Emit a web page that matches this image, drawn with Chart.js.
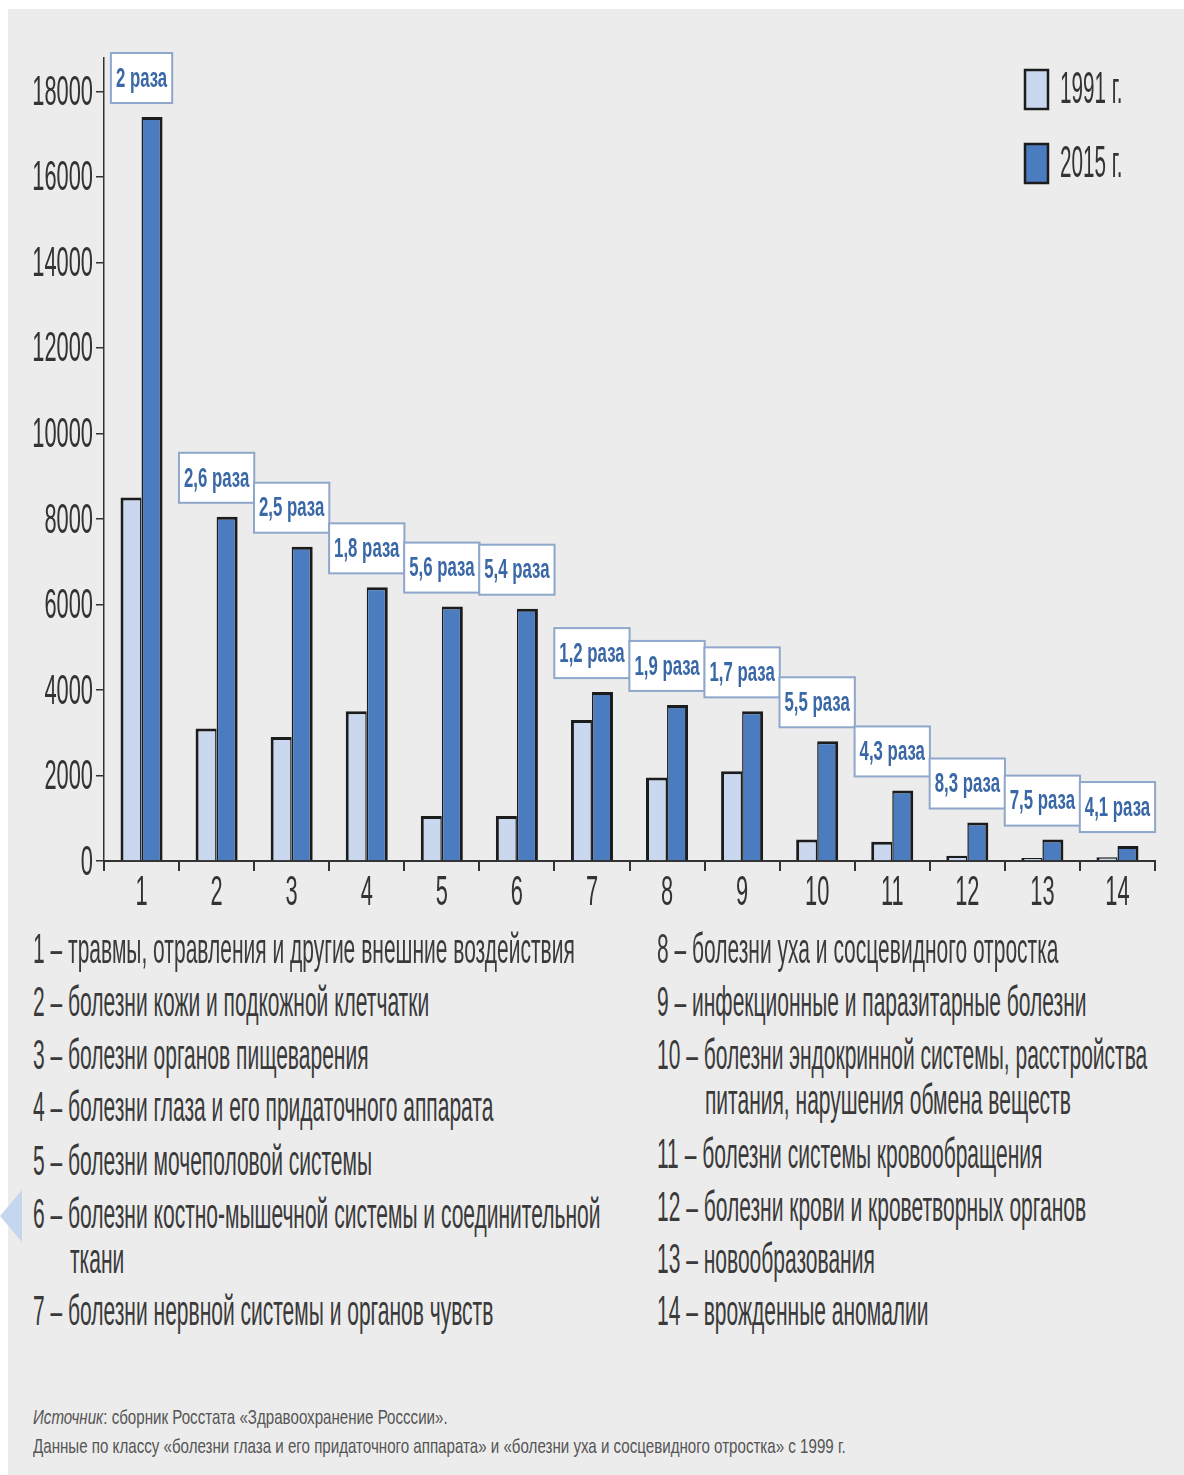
<!DOCTYPE html>
<html lang="ru">
<head>
<meta charset="utf-8">
<script src="https://cdn.jsdelivr.net/npm/chart.js@4.4.1/dist/chart.umd.min.js"></script>
<style>
  body { margin: 0; width: 1184px; height: 1475px; position: relative; overflow: hidden; background: #fff; font-family: "Liberation Sans", Arial, sans-serif; }
  #panel { position: absolute; left: 8px; top: 9px; right: 0; bottom: 0; background: #ececec; }
  #wrap { position: absolute; left: 0; top: 0; width: 1184px; height: 930px; }
  .note { position: absolute; white-space: nowrap; font-size: 42px; line-height: 42px; color: #3a3a3a; transform: scaleX(0.5); transform-origin: 0 50%; }
  .src { position: absolute; white-space: nowrap; font-size: 21px; line-height: 21px; color: #555; transform: scaleX(0.72); transform-origin: 0 50%; }
  #arrow { position: absolute; left: 0; top: 1190px; width: 0; height: 0; border-top: 26px solid transparent; border-bottom: 26px solid transparent; border-right: 22px solid #c6d6ee; }
</style>
</head>
<body>
<div id="panel"></div>
<div id="arrow"></div>
<div id="wrap"><canvas id="chart" width="1184" height="930"></canvas></div>
<div id="notes"></div>
<script>
// данные
const categories = ['1', '2', '3', '4', '5', '6', '7', '8', '9', '10', '11', '12', '13', '14'];
const values1991 = [8500, 3100, 2900, 3500, 1050, 1050, 3300, 1950, 2100, 500, 450, 120, 70, 85];
const values2015 = [17400, 8050, 7350, 6400, 5950, 5900, 3950, 3650, 3500, 2800, 1650, 900, 500, 350];
const ratioLabels = ['2 раза', '2,6 раза', '2,5 раза', '1,8 раза', '5,6 раза', '5,4 раза', '1,2 раза',
  '1,9 раза', '1,7 раза', '5,5 раза', '4,3 раза', '8,3 раза', '7,5 раза', '4,1 раза'];
const yTicks = [0, 2000, 4000, 6000, 8000, 10000, 12000, 14000, 16000, 18000];
const seriesLabels = ['1991 г.', '2015 г.'];

const notesLeft = [
  ['1 – травмы, отравления и другие внешние воздействия'],
  ['2 – болезни кожи и подкожной клетчатки'],
  ['3 – болезни органов пищеварения'],
  ['4 – болезни глаза и его придаточного аппарата'],
  ['5 – болезни мочеполовой системы'],
  ['6 – болезни костно-мышечной системы и соединительной', 'ткани'],
  ['7 – болезни нервной системы и органов чувств']
];
const notesRight = [
  ['8 – болезни уха и сосцевидного отростка'],
  ['9 – инфекционные и паразитарные болезни'],
  ['10 – болезни эндокринной системы, расстройства', 'питания, нарушения обмена веществ'],
  ['11 – болезни системы кровообращения'],
  ['12 – болезни крови и кроветворных органов'],
  ['13 – новообразования'],
  ['14 – врожденные аномалии']
];

const FONT = '"Liberation Sans", Arial, sans-serif';
const LIGHT = '#c9d8ef';
const DARK = '#4a7cbf';
const EDGE = '#1c1c1c';

// узкий текст: шрифт сжимается по горизонтали
function narrowText(ctx, text, x, y, font, sx, align, color) {
  ctx.save();
  ctx.font = font;
  ctx.fillStyle = color;
  ctx.textBaseline = 'middle';
  ctx.textAlign = 'left';
  const w = ctx.measureText(text).width * sx;
  const left = align === 'right' ? x - w : align === 'center' ? x - w / 2 : x;
  ctx.translate(left, y);
  ctx.scale(sx, 1);
  ctx.fillText(text, 0, 0);
  ctx.restore();
  return w;
}

const labelsPlugin = {
  id: 'labels',
  afterDraw(chart) {
    const ctx = chart.ctx;
    const xs = chart.scales.x;
    const ys = chart.scales.y;

    yTicks.forEach(v => {
      narrowText(ctx, String(v), 93, ys.getPixelForValue(v) + 2, '42px ' + FONT, 0.52, 'right', '#333');
    });
    categories.forEach((c, i) => {
      narrowText(ctx, c, xs.getPixelForValue(i), 893, '42px ' + FONT, 0.52, 'center', '#333');
    });

    // рамки с кратностью роста
    const meta = chart.getDatasetMeta(1);
    ctx.save();
    ctx.font = 'bold 28px ' + FONT;
    ratioLabels.forEach((t, i) => {
      const tw = ctx.measureText(t).width * 0.6;
      const w = tw + 10;
      const h = 50;
      const cx = xs.getPixelForValue(i);
      const bottom = meta.data[i].y - 14;
      ctx.fillStyle = '#fff';
      ctx.fillRect(cx - w / 2, bottom - h, w, h);
      ctx.strokeStyle = '#8ea7cb';
      ctx.lineWidth = 2;
      ctx.strokeRect(cx - w / 2, bottom - h, w, h);
      narrowText(ctx, t, cx, bottom - h / 2 + 1, 'bold 28px ' + FONT, 0.6, 'center', '#3a68a6');
    });
    ctx.restore();

    // легенда
    chart.data.datasets.forEach((ds, i) => {
      const top = 70 + i * 74;
      ctx.save();
      ctx.fillStyle = ds.backgroundColor;
      ctx.fillRect(1025, top, 23, 39);
      ctx.strokeStyle = EDGE;
      ctx.lineWidth = 2.5;
      ctx.strokeRect(1025, top, 23, 39);
      ctx.restore();
      narrowText(ctx, ds.label, 1060, top + 21, '44px ' + FONT, 0.47, 'left', '#333');
    });
  }
};

new Chart(document.getElementById('chart').getContext('2d'), {
  type: 'bar',
  data: {
    labels: categories,
    datasets: [
      {
        label: seriesLabels[0],
        data: values1991,
        backgroundColor: LIGHT,
        borderColor: EDGE,
        borderWidth: { top: 3, left: 3, right: 1.5, bottom: 0 },
        borderSkipped: false
      },
      {
        label: seriesLabels[1],
        data: values2015,
        backgroundColor: DARK,
        borderColor: EDGE,
        borderWidth: { top: 3, left: 1.5, right: 3, bottom: 0 },
        borderSkipped: false
      }
    ]
  },
  options: {
    responsive: false,
    animation: false,
    layout: { padding: { top: 58, right: 29, left: 0, bottom: 0 } },
    datasets: { bar: { categoryPercentage: 0.56, barPercentage: 1 } },
    plugins: { legend: { display: false }, tooltip: { enabled: false } },
    scales: {
      x: {
        grid: { drawOnChartArea: false, tickLength: 10, color: '#333', lineWidth: 2, offset: true },
        border: { color: '#333', width: 2 },
        ticks: { display: false },
        afterFit(s) { s.height = 69; }
      },
      y: {
        min: 0,
        max: 18780,
        afterBuildTicks(s) { s.ticks = yTicks.map(v => ({ value: v })); },
        grid: { drawOnChartArea: false, tickLength: 8, color: '#333', lineWidth: 1.5 },
        border: { color: '#333', width: 1.5 },
        ticks: { display: false },
        afterFit(s) { s.width = 104; }
      }
    }
  },
  plugins: [labelsPlugin]
});

// подписи категорий под графиком
const notesBox = document.getElementById('notes');
function addLine(text, x, cy, cls) {
  const d = document.createElement('div');
  d.className = cls;
  d.textContent = text;
  d.style.left = x + 'px';
  d.style.top = (cy - 22) + 'px';
  notesBox.appendChild(d);
  return d;
}
const leftRows = [950, 1003, 1056, 1108, 1162, 1215, 1312];
const rightRows = [950, 1003, 1056, 1155, 1208, 1260, 1312];
notesLeft.forEach((n, i) => {
  addLine(n[0], 33, leftRows[i], 'note');
  if (n[1]) addLine(n[1], 70, leftRows[i] + 45, 'note');
});
notesRight.forEach((n, i) => {
  addLine(n[0], 657, rightRows[i], 'note');
  if (n[1]) addLine(n[1], 705, rightRows[i] + 45, 'note');
});

const s1 = addLine('', 33, 1428, 'src');
s1.innerHTML = '<i>Источник</i>: сборник Росстата «Здравоохранение Росссии».';
addLine('Данные по классу «болезни глаза и его придаточного аппарата» и «болезни уха и сосцевидного отростка» с 1999 г.', 33, 1457, 'src');
</script>
</body>
</html>
